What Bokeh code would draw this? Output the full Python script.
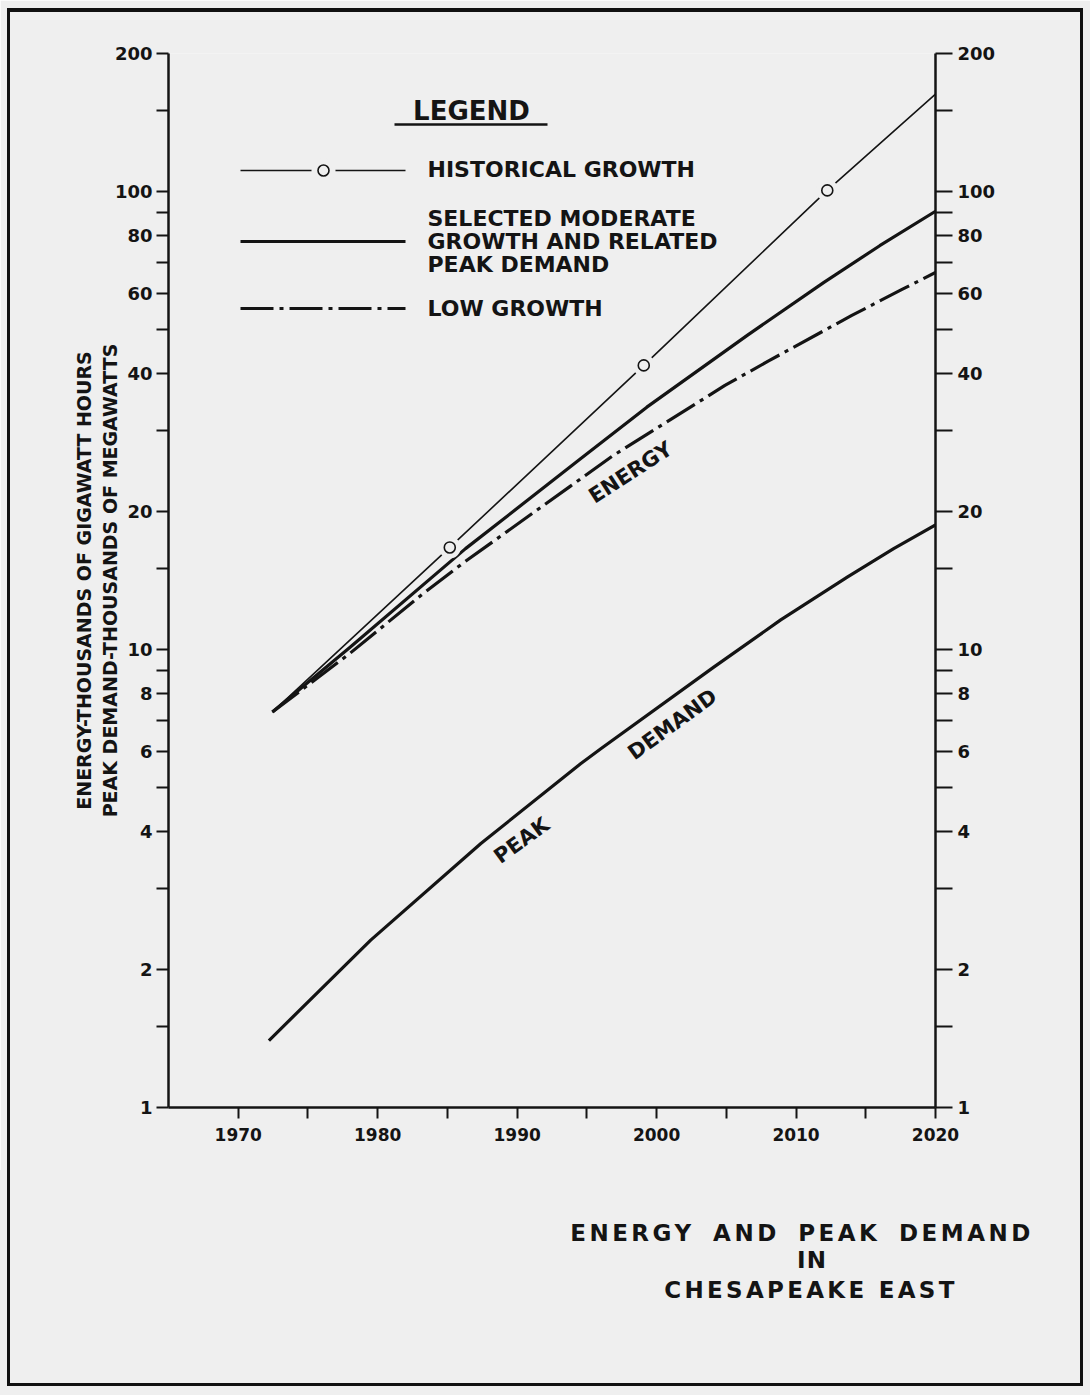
import math
from bokeh.plotting import figure
from bokeh.layouts import column
from bokeh.models import LogAxis, FixedTicker, PrintfTickFormatter, Label, Range1d, Div
from bokeh.embed import file_html
from bokeh.resources import INLINE

# ---------------- data ----------------
hist_years = [1972.45, 1985.17, 1999.08, 2012.24, 2020.0]
hist_values = [7.3, 16.7, 41.7, 100.5, 163.0]
hist_marker_years = [1985.17, 1999.08, 2012.24]
hist_marker_values = [16.7, 41.7, 100.5]

mod_years = [1972.45, 1978.0, 1986.3, 1994.5, 1999.3, 2006.5, 2012.0, 2016.0, 2020.0]
mod_values = [7.3, 10.1, 16.6, 26.0, 33.8, 48.5, 63.3, 76.1, 90.5]

low_years = [1972.45, 1978.0, 1983.2, 1986.2, 1993.8, 1996.8, 2004.9, 2008.0, 2014.0, 2017.6, 2020.0]
low_values = [7.3, 9.8, 13.2, 15.5, 22.7, 26.4, 37.7, 42.6, 53.6, 61.1, 66.5]

peak_years = [1972.2, 1979.5, 1987.4, 1994.55, 1996.0, 2004.1, 2008.9, 2013.7, 2017.0, 2020.0]
peak_values = [1.40, 2.32, 3.77, 5.63, 6.07, 9.15, 11.6, 14.4, 16.6, 18.7]

y_labeled_ticks = [1, 2, 4, 6, 8, 10, 20, 40, 60, 80, 100, 200]
y_unlabeled_ticks = [1.5, 3, 5, 7, 9, 15, 30, 50, 70, 90, 150]
x_labeled_ticks = [1970, 1980, 1990, 2000, 2010, 2020]
x_unlabeled_ticks = [1975, 1985, 1995, 2005, 2015]

legend_title = "LEGEND"
legend_labels = ["HISTORICAL GROWTH",
                 ["SELECTED MODERATE", "GROWTH AND RELATED", "PEAK DEMAND"],
                 "LOW GROWTH"]
y_label_lines = ["ENERGY-THOUSANDS OF GIGAWATT HOURS",
                 "PEAK DEMAND-THOUSANDS OF MEGAWATTS"]
title_lines = ["ENERGY AND PEAK DEMAND", "IN", "CHESAPEAKE EAST"]

# ---------------- styling ----------------
BG = "#efefef"
INK = "#141414"
FONT = "DejaVu Sans"
DASHDOT = "33 6 4 6"

PAGE_W, PAGE_H = 1090, 1395
MAIN_H = 1170
FL, FR, FT, FB = 168, 935, 53, 1107   # page pixel frame edges
X0, X1, Y0, Y1 = 1965, 2020, 1, 200
BASE_SHIFT = 0.36  # em correction for alphabetic baseline placement

p = figure(width=PAGE_W, height=MAIN_H, x_range=Range1d(X0, X1), y_range=Range1d(Y0, Y1),
           y_axis_type="log", output_backend="svg", toolbar_location=None,
           min_border_left=FL, min_border_right=PAGE_W - FR,
           min_border_top=FT, min_border_bottom=MAIN_H - FB)
p.background_fill_color = BG
p.border_fill_color = BG
p.outline_line_color = None
p.grid.visible = False


def X(px):
    return X0 + (px - FL) * (X1 - X0) / (FR - FL)


def Y(py):
    return 10 ** (math.log10(Y1) * (FB - py) / (FB - FT))


def style_axis(ax, tick_out, size, standoff):
    ax.axis_line_color = INK
    ax.axis_line_width = 2.5
    ax.major_tick_line_color = INK
    ax.minor_tick_line_color = INK
    ax.major_tick_line_width = 2
    ax.minor_tick_line_width = 2
    ax.major_tick_in = 0
    ax.minor_tick_in = 0
    ax.major_tick_out = tick_out
    ax.minor_tick_out = tick_out
    ax.major_label_text_font = FONT
    ax.major_label_text_font_style = "bold"
    ax.major_label_text_font_size = f"{size}px"
    ax.major_label_text_color = INK
    ax.major_label_standoff = standoff


p.yaxis.ticker = FixedTicker(ticks=y_labeled_ticks, minor_ticks=y_unlabeled_ticks)
p.yaxis.formatter = PrintfTickFormatter(format="%d")
style_axis(p.yaxis[0], 12, 18, 4)
p.yaxis.axis_label = "\n".join(y_label_lines)
p.yaxis.axis_label_text_font = FONT
p.yaxis.axis_label_text_font_style = "bold"
p.yaxis.axis_label_text_font_size = "19px"
p.yaxis.axis_label_text_color = INK
p.yaxis.axis_label_standoff = -9

raxis = LogAxis(ticker=FixedTicker(ticks=y_labeled_ticks, minor_ticks=y_unlabeled_ticks),
                formatter=PrintfTickFormatter(format="%d"))
style_axis(raxis, 17, 18, 5)
p.add_layout(raxis, "right")

p.xaxis.ticker = FixedTicker(ticks=x_labeled_ticks, minor_ticks=x_unlabeled_ticks)
p.xaxis.formatter = PrintfTickFormatter(format="%d")
style_axis(p.xaxis[0], 11, 17, 9)

# ---------------- curves ----------------
p.line(hist_years, hist_values, line_color=INK, line_width=1.6)
p.line(mod_years, mod_values, line_color=INK, line_width=3.2, line_join="round")
p.line(low_years, low_values, line_color=INK, line_width=3.2, line_dash=DASHDOT)
p.line(peak_years, peak_values, line_color=INK, line_width=3.2, line_join="round")

p.scatter(hist_marker_years, hist_marker_values, size=22, fill_color=BG, line_color=None)
p.scatter(hist_marker_years, hist_marker_values, size=11, fill_color=BG,
          line_color=INK, line_width=1.6)


def plabel(px, py, text, size, align="left", baseline="alphabetic", angle=0.0):
    if baseline == "alphabetic":
        py -= BASE_SHIFT * size
    p.add_layout(Label(x=X(px), y=Y(py), text=text, text_font=FONT,
                       text_font_style="bold", text_font_size=f"{size}px",
                       text_color=INK, text_align=align, text_baseline=baseline,
                       angle=angle))


# curve annotations
plabel(630, 472, "ENERGY", 21, "center", "middle", math.radians(33))
plabel(521, 840, "PEAK", 21, "center", "middle", math.radians(36))
plabel(672, 724, "DEMAND", 21, "center", "middle", math.radians(36))

# ---------------- legend ----------------
plabel(471, 120, legend_title, 26, "center")
p.line([X(394), X(547)], [Y(124)] * 2, line_color=INK, line_width=2.5)

p.line([X(240), X(405)], [Y(170)] * 2, line_color=INK, line_width=1.6)
p.scatter([X(323)], [Y(170)], size=24, fill_color=BG, line_color=None)
p.scatter([X(323)], [Y(170)], size=11, fill_color=BG, line_color=INK, line_width=1.6)
plabel(427, 177, legend_labels[0], 22)

p.line([X(240), X(405)], [Y(241)] * 2, line_color=INK, line_width=3.2)
for text, base in zip(legend_labels[1], [226, 249, 272]):
    plabel(427, base, text, 22)

p.line([X(240), X(405)], [Y(308)] * 2, line_color=INK, line_width=3.2,
       line_dash=DASHDOT)
plabel(427, 316, legend_labels[2], 22)

# ---------------- title block (HTML text under the plot) ----------------
TITLE_FS = 23
title_specs = [  # (centre x, baseline y on page, letter spacing, word spacing)
    (802, 1241, 3.5, 7),
    (812, 1268.5, 1, 0),
    (811, 1298, 3.3, 0),
]
parts = []
for text, (cx, base, ls, ws) in zip(title_lines, title_specs):
    top = base - MAIN_H - 0.846 * TITLE_FS
    parts.append(
        f'<div style="position:absolute; left:{cx - 300}px; top:{top:.1f}px; width:600px; '
        f'text-align:center; font-size:{TITLE_FS}px; line-height:1; '
        f'letter-spacing:{ls}px; word-spacing:{ws}px; white-space:nowrap;">{text}</div>')
title_html = (
    f'<div style="position:relative; width:{PAGE_W}px; height:{PAGE_H - MAIN_H}px; '
    f'background:{BG}; color:{INK}; font-family:\'{FONT}\'; font-weight:bold;">'
    + "".join(parts) + '</div>')
title_div = Div(text=title_html, width=PAGE_W, height=PAGE_H - MAIN_H,
                styles={"margin": "0", "padding": "0", "background": BG})

border_css = (
    ":host { position: relative; }\n"
    ":host::after { content: ''; position: absolute; left: 7px; top: 8px; "
    "right: 7px; bottom: 9px; border: 3px solid #111; border-top-width: 4px; "
    "pointer-events: none; z-index: 100; }"
)
page = column(p, title_div, spacing=0, stylesheets=[border_css])

open("out.html", "w").write(file_html(page, INLINE))
